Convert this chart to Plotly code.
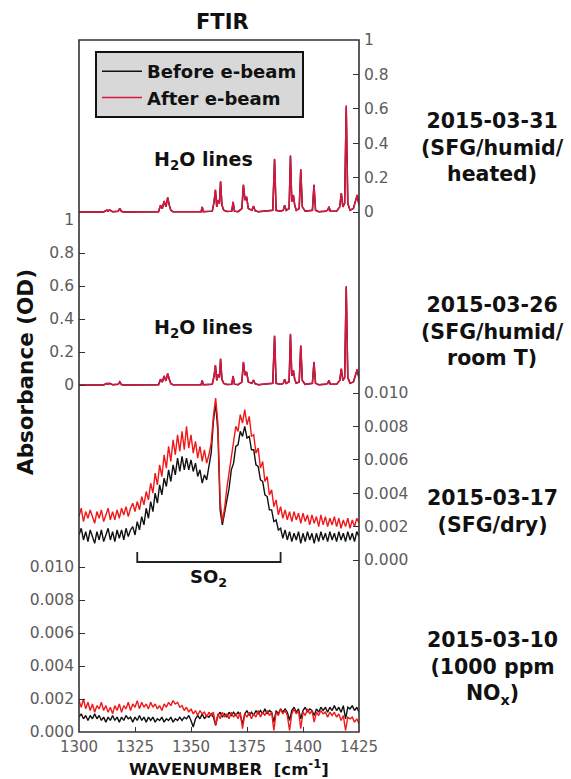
import plotly.graph_objects as go

# ---------------- data ----------------
wavenumber_ticks = [1300, 1325, 1350, 1375, 1400, 1425]

# H2O-line spectra (panels 2015-03-31 and 2015-03-26), absorbance (OD)
h2o_wn = [1300, 1311, 1312.5, 1313, 1313.6, 1315, 1317.5, 1318.2, 1318.9, 1320,
          1335.5, 1336.4, 1337.2, 1338, 1338.8, 1339.6, 1340.3, 1341, 1342, 1350,
          1354.5, 1355, 1355.5, 1359.5, 1360.3, 1360.9, 1361.5, 1362.1, 1362.7, 1363.2,
          1363.8, 1364.6, 1366, 1368.2, 1368.8, 1369.4, 1371, 1372.7, 1373.4, 1374.1,
          1374.8, 1375.6, 1377.2, 1377.9, 1378.6, 1380, 1386.5, 1387.3, 1388, 1390,
          1391.2, 1391.8, 1392.5, 1393.8, 1394.4, 1395, 1395.7, 1396.3, 1397, 1398.3,
          1399, 1399.7, 1401, 1404.2, 1404.9, 1405.6, 1407, 1410, 1411, 1411.6,
          1412.2, 1415, 1416.4, 1417.1, 1417.8, 1418.6, 1419.3, 1420, 1421, 1422.5,
          1423.3, 1424.2, 1425]

abs_0331_after = [0.000, 0.000, 0.012, 0.005, 0.012, 0.002, 0.004, 0.022, 0.004, 0.000,
                  0.002, 0.040, 0.020, 0.065, 0.030, 0.085, 0.040, 0.010, 0.002, 0.000,
                  0.002, 0.030, 0.002, 0.005, 0.060, 0.130, 0.030, 0.070, 0.050, 0.180,
                  0.040, 0.010, 0.003, 0.005, 0.060, 0.005, 0.002, 0.020, 0.160, 0.070,
                  0.090, 0.020, 0.010, 0.035, 0.008, 0.002, 0.010, 0.310, 0.010, 0.004,
                  0.010, 0.040, 0.010, 0.020, 0.330, 0.060, 0.100, 0.040, 0.010, 0.020,
                  0.250, 0.030, 0.004, 0.010, 0.160, 0.010, 0.002, 0.004, 0.010, 0.030,
                  0.005, 0.005, 0.030, 0.110, 0.030, 0.050, 0.620, 0.050, 0.010, 0.020,
                  0.060, 0.100, 0.040]
abs_0331_before = [0.000, 0.000, 0.011, 0.005, 0.012, 0.002, 0.004, 0.021, 0.004, 0.000,
                   0.002, 0.038, 0.020, 0.063, 0.030, 0.083, 0.040, 0.010, 0.002, 0.000,
                   0.002, 0.029, 0.002, 0.005, 0.058, 0.128, 0.030, 0.068, 0.050, 0.176,
                   0.040, 0.010, 0.003, 0.005, 0.058, 0.005, 0.002, 0.020, 0.156, 0.068,
                   0.088, 0.020, 0.010, 0.034, 0.008, 0.002, 0.010, 0.305, 0.010, 0.004,
                   0.010, 0.039, 0.010, 0.020, 0.325, 0.060, 0.098, 0.040, 0.010, 0.020,
                   0.246, 0.030, 0.004, 0.010, 0.157, 0.010, 0.002, 0.004, 0.010, 0.030,
                   0.005, 0.005, 0.030, 0.108, 0.030, 0.050, 0.610, 0.050, 0.010, 0.020,
                   0.058, 0.098, 0.040]

abs_0326_after = [0.000, 0.000, 0.010, 0.004, 0.011, 0.002, 0.004, 0.020, 0.003, 0.000,
                  0.002, 0.035, 0.018, 0.055, 0.025, 0.070, 0.035, 0.008, 0.002, 0.000,
                  0.002, 0.028, 0.002, 0.005, 0.055, 0.120, 0.028, 0.065, 0.045, 0.160,
                  0.035, 0.010, 0.003, 0.005, 0.055, 0.005, 0.002, 0.018, 0.140, 0.060,
                  0.080, 0.018, 0.010, 0.030, 0.008, 0.002, 0.010, 0.300, 0.010, 0.004,
                  0.010, 0.035, 0.010, 0.020, 0.310, 0.055, 0.090, 0.035, 0.010, 0.018,
                  0.240, 0.028, 0.004, 0.010, 0.140, 0.010, 0.002, 0.004, 0.010, 0.028,
                  0.005, 0.005, 0.028, 0.100, 0.028, 0.045, 0.600, 0.045, 0.010, 0.018,
                  0.055, 0.095, 0.040]
abs_0326_before = [0.000, 0.000, 0.010, 0.004, 0.010, 0.002, 0.004, 0.019, 0.003, 0.000,
                   0.002, 0.034, 0.018, 0.054, 0.025, 0.069, 0.035, 0.008, 0.002, 0.000,
                   0.002, 0.027, 0.002, 0.005, 0.054, 0.118, 0.028, 0.064, 0.045, 0.157,
                   0.035, 0.010, 0.003, 0.005, 0.054, 0.005, 0.002, 0.018, 0.138, 0.060,
                   0.079, 0.018, 0.010, 0.030, 0.008, 0.002, 0.010, 0.296, 0.010, 0.004,
                   0.010, 0.034, 0.010, 0.020, 0.306, 0.055, 0.089, 0.035, 0.010, 0.018,
                   0.236, 0.028, 0.004, 0.010, 0.138, 0.010, 0.002, 0.004, 0.010, 0.028,
                   0.005, 0.005, 0.028, 0.098, 0.028, 0.045, 0.592, 0.045, 0.010, 0.018,
                   0.054, 0.093, 0.040]

# Noisy spectra sampled every 1 cm-1 from 1300 to 1425
grid_wn = list(range(1300, 1426))

abs_0317_after = [
    0.0026, 0.0031, 0.0023, 0.0029, 0.0025, 0.0030, 0.0026, 0.0022, 0.0029, 0.0025,
    0.0030, 0.0023, 0.0027, 0.0031, 0.0024, 0.0029, 0.0024, 0.0030, 0.0025, 0.0031,
    0.0027, 0.0032, 0.0026, 0.0031, 0.0034, 0.0029, 0.0035, 0.0030, 0.0038, 0.0033,
    0.0041, 0.0036, 0.0046, 0.0040, 0.0052, 0.0045, 0.0057, 0.0050, 0.0063, 0.0055,
    0.0068, 0.0059, 0.0072, 0.0063, 0.0075, 0.0065, 0.0077, 0.0066, 0.0080, 0.0067,
    0.0075, 0.0064, 0.0071, 0.0061, 0.0068, 0.0059, 0.0066, 0.0058, 0.0063, 0.0070,
    0.0086, 0.0097, 0.0082, 0.0036, 0.0023, 0.0031, 0.0043, 0.0052, 0.0064, 0.0070,
    0.0080, 0.0077, 0.0087, 0.0082, 0.0090, 0.0081, 0.0086, 0.0074, 0.0075, 0.0064,
    0.0067, 0.0055, 0.0059, 0.0047, 0.0050, 0.0039, 0.0042, 0.0032, 0.0036, 0.0027,
    0.0032, 0.0025, 0.0030, 0.0024, 0.0029, 0.0023, 0.0029, 0.0024, 0.0028, 0.0022,
    0.0028, 0.0023, 0.0027, 0.0021, 0.0027, 0.0022, 0.0026, 0.0020, 0.0027, 0.0021,
    0.0026, 0.0020, 0.0025, 0.0021, 0.0026, 0.0020, 0.0025, 0.0019, 0.0024, 0.0020,
    0.0025, 0.0019, 0.0024, 0.0020, 0.0025, 0.0022]
abs_0317_before = [
    0.0015, 0.0019, 0.0012, 0.0017, 0.0011, 0.0018, 0.0014, 0.0010, 0.0017, 0.0012,
    0.0018, 0.0011, 0.0015, 0.0019, 0.0012, 0.0017, 0.0011, 0.0018, 0.0013, 0.0018,
    0.0012, 0.0019, 0.0014, 0.0018, 0.0020, 0.0015, 0.0023, 0.0018, 0.0026, 0.0021,
    0.0031, 0.0025, 0.0035, 0.0029, 0.0040, 0.0034, 0.0045, 0.0039, 0.0049, 0.0044,
    0.0054, 0.0047, 0.0057, 0.0051, 0.0061, 0.0053, 0.0062, 0.0054, 0.0061, 0.0054,
    0.0060, 0.0053, 0.0058, 0.0050, 0.0054, 0.0046, 0.0051, 0.0048, 0.0056, 0.0064,
    0.0083, 0.0094, 0.0077, 0.0030, 0.0021, 0.0028, 0.0037, 0.0043, 0.0054, 0.0058,
    0.0068, 0.0069, 0.0077, 0.0074, 0.0080, 0.0073, 0.0074, 0.0066, 0.0066, 0.0057,
    0.0056, 0.0048, 0.0047, 0.0039, 0.0038, 0.0030, 0.0030, 0.0023, 0.0024, 0.0018,
    0.0019, 0.0013, 0.0018, 0.0012, 0.0017, 0.0011, 0.0016, 0.0012, 0.0017, 0.0010,
    0.0016, 0.0011, 0.0017, 0.0012, 0.0016, 0.0010, 0.0016, 0.0011, 0.0017, 0.0012,
    0.0016, 0.0011, 0.0017, 0.0012, 0.0016, 0.0011, 0.0017, 0.0012, 0.0016, 0.0011,
    0.0017, 0.0012, 0.0016, 0.0011, 0.0017, 0.0014]

abs_0310_after = [
    0.0019, 0.0015, 0.0020, 0.0014, 0.0018, 0.0013, 0.0017, 0.0012, 0.0016, 0.0014,
    0.0018, 0.0013, 0.0016, 0.0012, 0.0015, 0.0011, 0.0016, 0.0013, 0.0017, 0.0012,
    0.0016, 0.0014, 0.0018, 0.0013, 0.0017, 0.0015, 0.0019, 0.0014, 0.0018, 0.0015,
    0.0017, 0.0014, 0.0018, 0.0015, 0.0017, 0.0014, 0.0016, 0.0013, 0.0017, 0.0015,
    0.0018, 0.0016, 0.0019, 0.0017, 0.0018, 0.0015, 0.0016, 0.0013, 0.0015, 0.0012,
    0.0014, 0.0011, 0.0013, 0.0010, 0.0013, 0.0011, 0.0012, 0.0009, 0.0012, 0.0010,
    0.0012, 0.0004, 0.0011, 0.0008, 0.0012, 0.0009, 0.0011, 0.0008, 0.0012, 0.0009,
    0.0011, 0.0008, 0.0012, 0.0002, 0.0011, 0.0009, 0.0012, 0.0008, 0.0011, 0.0009,
    0.0013, 0.0009, 0.0012, 0.0010, 0.0013, 0.0010, 0.0012, 0.0001, 0.0012, 0.0010,
    0.0014, 0.0011, 0.0013, 0.0010, 0.0001, 0.0011, 0.0014, 0.0011, 0.0013, 0.0002,
    0.0012, 0.0010, 0.0014, 0.0011, 0.0013, 0.0006, 0.0012, 0.0010, 0.0013, 0.0011,
    0.0012, 0.0009, 0.0012, 0.0010, 0.0012, 0.0009, 0.0011, 0.0007, 0.0010, 0.0001,
    0.0009, 0.0008, 0.0009, 0.0006, 0.0008, 0.0005]
abs_0310_before = [
    0.0009, 0.0011, 0.0008, 0.0010, 0.0007, 0.0010, 0.0008, 0.0011, 0.0008, 0.0010,
    0.0007, 0.0009, 0.0006, 0.0009, 0.0007, 0.0010, 0.0007, 0.0009, 0.0006, 0.0009,
    0.0007, 0.0010, 0.0008, 0.0009, 0.0006, 0.0009, 0.0007, 0.0010, 0.0007, 0.0009,
    0.0006, 0.0009, 0.0007, 0.0009, 0.0006, 0.0008, 0.0007, 0.0009, 0.0006, 0.0008,
    0.0007, 0.0009, 0.0006, 0.0008, 0.0007, 0.0009, 0.0007, 0.0009, 0.0008, 0.0010,
    0.0007, 0.0003, 0.0008, 0.0010, 0.0008, 0.0011, 0.0008, 0.0010, 0.0009, 0.0011,
    0.0009, 0.0004, 0.0010, 0.0012, 0.0009, 0.0011, 0.0009, 0.0012, 0.0010, 0.0012,
    0.0010, 0.0012, 0.0010, 0.0005, 0.0011, 0.0013, 0.0010, 0.0012, 0.0010, 0.0013,
    0.0011, 0.0013, 0.0011, 0.0014, 0.0011, 0.0013, 0.0012, 0.0006, 0.0013, 0.0011,
    0.0014, 0.0012, 0.0014, 0.0012, 0.0007, 0.0013, 0.0015, 0.0012, 0.0014, 0.0008,
    0.0013, 0.0015, 0.0012, 0.0014, 0.0013, 0.0010, 0.0014, 0.0012, 0.0015, 0.0013,
    0.0015, 0.0012, 0.0015, 0.0013, 0.0016, 0.0013, 0.0015, 0.0012, 0.0016, 0.0008,
    0.0015, 0.0014, 0.0016, 0.0013, 0.0015, 0.0012]

so2_band = [1326, 1390]

panel_labels = ["2015-03-31<br>(SFG/humid/<br>heated)",
                "2015-03-26<br>(SFG/humid/<br>room T)",
                "2015-03-17<br>(SFG/dry)",
                "2015-03-10<br>(1000 ppm<br>NO<sub>x</sub>)"]
od_ticks_big = [0, 0.2, 0.4, 0.6, 0.8, 1]
od_ticks_small = [0, 0.002, 0.004, 0.006, 0.008, 0.010]

for arr in (abs_0331_after, abs_0331_before, abs_0326_after, abs_0326_before):
    assert len(arr) == len(h2o_wn)
for arr in (abs_0317_after, abs_0317_before, abs_0310_after, abs_0310_before):
    assert len(arr) == len(grid_wn)

# ---------------- layout geometry ----------------
W, H = 571, 779
ML, MR, MT, MB = 79, 212, 40, 47
PW, PH = W - ML - MR, H - MT - MB
BOTTOM = MT + PH


def ypaper(py):
    return (BOTTOM - py) / PH


def domain(py0, v0, py1, v1, lo, hi):
    s = (py0 - py1) / (v1 - v0)
    plo = py0 + (v0 - lo) * s
    phi = py0 - (hi - v0) * s
    return [max(0.0, ypaper(plo)), min(1.0, ypaper(phi))]


r1 = [-0.03, 1.0]
r2 = [-0.03, 1.0]
r3 = [-0.0001, 0.0102]
r4 = [0.0, 0.0102]
d1 = domain(212, 0, 40, 1, *r1)
d2 = domain(385, 0, 220, 1, *r2)
d3 = domain(560, 0, 393, 0.010, *r3)
d4 = domain(732, 0, 567, 0.010, *r4)

BLACK = "#111111"
RED_H2O = "#dc1440"
RED = "#f01818"
TICKFONT = dict(family="DejaVu Sans", size=15.5, color="#5c5c5c")
BOLD = "DejaVu Sans"

fig = go.Figure()

# panel 1 (y) 2015-03-31
fig.add_trace(go.Scatter(x=h2o_wn, y=abs_0331_before, mode="lines", name="Before e-beam",
                         line=dict(color=BLACK, width=1.5), xaxis="x", yaxis="y",
                         legendgroup="b", showlegend=True))
fig.add_trace(go.Scatter(x=h2o_wn, y=abs_0331_after, mode="lines", name="After e-beam",
                         line=dict(color=RED_H2O, width=1.5), xaxis="x", yaxis="y",
                         legendgroup="a", showlegend=True))
# panel 2 (y2) 2015-03-26
fig.add_trace(go.Scatter(x=h2o_wn, y=abs_0326_before, mode="lines", name="Before e-beam",
                         line=dict(color=BLACK, width=1.5), xaxis="x", yaxis="y2",
                         legendgroup="b", showlegend=False))
fig.add_trace(go.Scatter(x=h2o_wn, y=abs_0326_after, mode="lines", name="After e-beam",
                         line=dict(color=RED_H2O, width=1.5), xaxis="x", yaxis="y2",
                         legendgroup="a", showlegend=False))
# panel 3 (y3) 2015-03-17
fig.add_trace(go.Scatter(x=grid_wn, y=abs_0317_before, mode="lines", name="Before e-beam",
                         line=dict(color=BLACK, width=1.4), xaxis="x", yaxis="y3",
                         legendgroup="b", showlegend=False))
fig.add_trace(go.Scatter(x=grid_wn, y=abs_0317_after, mode="lines", name="After e-beam",
                         line=dict(color=RED, width=1.4), xaxis="x", yaxis="y3",
                         legendgroup="a", showlegend=False))
# panel 4 (y4) 2015-03-10
fig.add_trace(go.Scatter(x=grid_wn, y=abs_0310_before, mode="lines", name="Before e-beam",
                         line=dict(color=BLACK, width=1.4), xaxis="x", yaxis="y4",
                         legendgroup="b", showlegend=False))
fig.add_trace(go.Scatter(x=grid_wn, y=abs_0310_after, mode="lines", name="After e-beam",
                         line=dict(color=RED, width=1.4), xaxis="x", yaxis="y4",
                         legendgroup="a", showlegend=False))

common_y = dict(showgrid=False, zeroline=False, showline=False, ticks="inside",
                ticklen=6, tickwidth=1, tickcolor="#333333", tickfont=TICKFONT,
                anchor="x", ticklabelstandoff=4, tickmode="array")

fig.update_layout(
    width=W, height=H,
    margin=dict(l=ML, r=MR, t=MT, b=MB, pad=0),
    paper_bgcolor="white", plot_bgcolor="white",
    xaxis=dict(range=[1300, 1425], domain=[0, 1], anchor="y4", tickvals=wavenumber_ticks,
               showgrid=False, zeroline=False, showline=False, ticks="inside", ticklen=5,
               tickcolor="#333333", tickfont=dict(family="DejaVu Sans", size=15, color="#5c5c5c"),
               ticklabelstandoff=4),
    yaxis=dict(range=r1, domain=d1, side="right", tickvals=od_ticks_big, **common_y),
    yaxis2=dict(range=r2, domain=d2, side="left", tickvals=od_ticks_big, **common_y),
    yaxis3=dict(range=r3, domain=d3, side="right", tickvals=od_ticks_small,
                tickformat=".3f", **common_y),
    yaxis4=dict(range=r4, domain=d4, side="left", tickvals=od_ticks_small,
                tickformat=".3f", **common_y),
    legend=dict(x=(95 - ML) / PW, y=ypaper(51), xanchor="left", yanchor="top",
                bgcolor="#d8d8d8", bordercolor="#111111", borderwidth=2,
                font=dict(family=BOLD, size=18, color="#111111", weight="bold"),
                tracegroupgap=0, itemwidth=40),
    showlegend=True,
)

# frame
fig.add_shape(type="rect", xref="paper", yref="paper", x0=0, x1=1, y0=0, y1=1,
              line=dict(color="#333333", width=1.6), layer="above")

# SO2 bracket
fig.add_shape(type="path", xref="x", yref="paper",
              path=(f"M {so2_band[0]},{ypaper(552)} L {so2_band[0]},{ypaper(562)} "
                    f"L {so2_band[1]},{ypaper(562)} L {so2_band[1]},{ypaper(552)}"),
              line=dict(color="#222222", width=1.8))


def ann(text, x, y, size, xref="paper", color="#111111", angle=0):
    fig.add_annotation(text=text, x=x, y=y, xref=xref, yref="paper", showarrow=False,
                       xanchor="center", yanchor="middle", textangle=angle,
                       font=dict(family=BOLD, size=size, color=color, weight="bold"))


ann("FTIR", (222 - ML) / PW, ypaper(22), 21)
ann("Absorbance (OD)", (25 - ML) / PW, ypaper(372), 21.5, angle=-90)
ann("WAVENUMBER  [cm<sup>-1</sup>]", (229 - ML) / PW, ypaper(768), 16.5)
ann("H<sub>2</sub>O lines", (203 - ML) / PW, ypaper(160), 19)
ann("H<sub>2</sub>O lines", (203 - ML) / PW, ypaper(328), 19)
ann("SO<sub>2</sub>", (so2_band[0] + so2_band[1]) / 2, ypaper(578), 18, xref="x")

label_centers = [147, 332, 511, 668]
for txt, cy in zip(panel_labels, label_centers):
    ann(txt, (492 - ML) / PW, ypaper(cy), 20.5)

fig.write_html("out.html")
